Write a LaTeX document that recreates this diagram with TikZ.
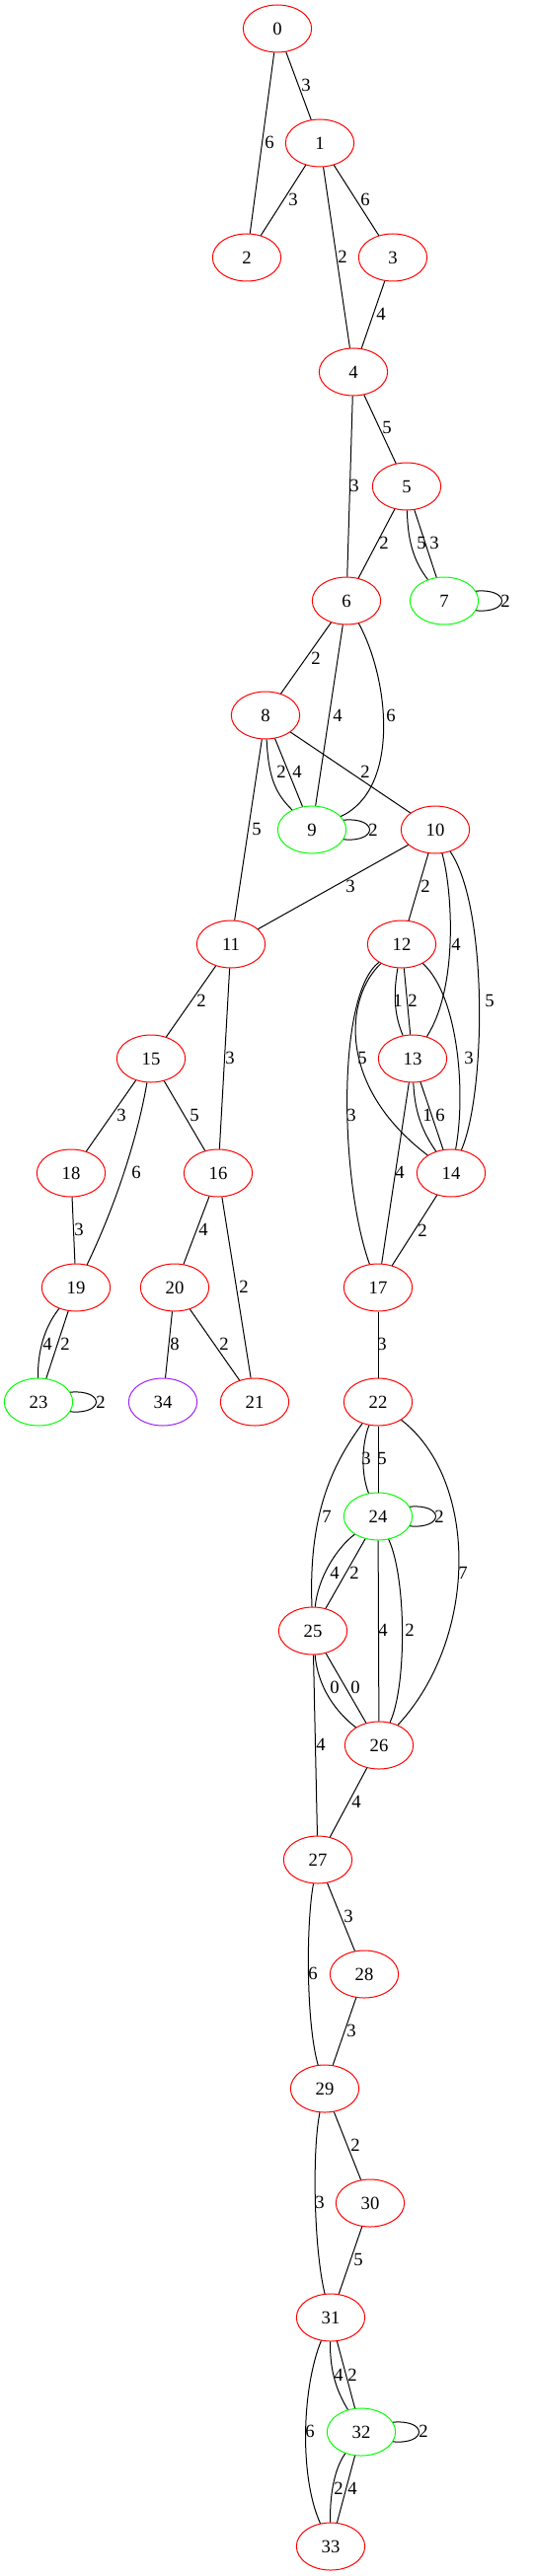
\documentclass[tikz,border=0pt]{standalone}
\usepackage{fontspec}
\setmainfont{Liberation Serif}
\usetikzlibrary{shapes.geometric}
\definecolor{gvred}{RGB}{255,0,0}
\definecolor{gvgreen}{RGB}{0,255,0}
\definecolor{gvpurple}{RGB}{160,32,240}
\tikzset{
  vtx/.style={ellipse, draw, line width=0.75pt, minimum width=52pt, minimum height=36pt, inner sep=0pt, font=\fontsize{14}{16}\selectfont},
  rednode/.style={vtx, draw=gvred},
  greennode/.style={vtx, draw=gvgreen},
  purplenode/.style={vtx, draw=gvpurple},
  conn/.style={line width=0.75pt, draw=black},
  lbl/.style={font=\fontsize{14}{16}\selectfont, inner sep=0pt},
}
\begin{document}
\begin{tikzpicture}[x=0.75pt, y=-0.75pt]
\useasboundingbox (0,0) rectangle (540,2611);
% nodes
\node[rednode] (n0) at (281,29) {0};
\node[rednode] (n1) at (324,145) {1};
\node[rednode] (n2) at (250,261) {2};
\node[rednode] (n3) at (398,261) {3};
\node[rednode] (n4) at (358,377) {4};
\node[rednode] (n5) at (412,493) {5};
\node[rednode] (n6) at (351,609) {6};
\node[greennode] (n7) at (450,609) {7};
\node[rednode] (n8) at (269,725) {8};
\node[greennode] (n9) at (316,841) {9};
\node[rednode] (n10) at (441,841) {10};
\node[rednode] (n11) at (234,957) {11};
\node[rednode] (n12) at (407,957) {12};
\node[rednode] (n13) at (418,1073) {13};
\node[rednode] (n14) at (457,1189) {14};
\node[rednode] (n15) at (153,1073) {15};
\node[rednode] (n16) at (221,1189) {16};
\node[rednode] (n17) at (383,1305) {17};
\node[rednode] (n18) at (72,1189) {18};
\node[rednode] (n19) at (77,1305) {19};
\node[rednode] (n20) at (177,1305) {20};
\node[rednode] (n21) at (258,1421) {21};
\node[rednode] (n22) at (383,1421) {22};
\node[greennode] (n23) at (39,1421) {23};
\node[greennode] (n24) at (383,1537) {24};
\node[rednode] (n25) at (317,1653) {25};
\node[rednode] (n26) at (384,1769) {26};
\node[rednode] (n27) at (322,1885) {27};
\node[rednode] (n28) at (369,2001) {28};
\node[rednode] (n29) at (329,2117) {29};
\node[rednode] (n30) at (375,2233) {30};
\node[rednode] (n31) at (335,2349) {31};
\node[greennode] (n32) at (366,2465) {32};
\node[rednode] (n33) at (335,2581) {33};
\node[purplenode] (n34) at (165,1421) {34};
% straight edges
\draw[conn] (n0) -- (n1);
\draw[conn] (n0) -- (n2);
\draw[conn] (n1) -- (n2);
\draw[conn] (n1) -- (n3);
\draw[conn] (n1) -- (n4);
\draw[conn] (n3) -- (n4);
\draw[conn] (n4) -- (n5);
\draw[conn] (n4) -- (n6);
\draw[conn] (n5) -- (n6);
\draw[conn] (n5) -- (n7);
\draw[conn] (n6) -- (n8);
\draw[conn] (n6) -- (n9);
\draw[conn] (n8) -- (n9);
\draw[conn] (n8) -- (n10);
\draw[conn] (n8) -- (n11);
\draw[conn] (n10) -- (n11);
\draw[conn] (n10) -- (n12);
\draw[conn] (n11) -- (n15);
\draw[conn] (n11) -- (n16);
\draw[conn] (n12) -- (n13);
\draw[conn] (n13) -- (n14);
\draw[conn] (n13) -- (n17);
\draw[conn] (n14) -- (n17);
\draw[conn] (n15) -- (n18);
\draw[conn] (n15) -- (n16);
\draw[conn] (n18) -- (n19);
\draw[conn] (n16) -- (n20);
\draw[conn] (n16) -- (n21);
\draw[conn] (n19) -- (n23);
\draw[conn] (n20) -- (n34);
\draw[conn] (n20) -- (n21);
\draw[conn] (n17) -- (n22);
\draw[conn] (n22) -- (n24);
\draw[conn] (n24) -- (n25);
\draw[conn] (n24) -- (n26);
\draw[conn] (n25) -- (n26);
\draw[conn] (n25) -- (n27);
\draw[conn] (n26) -- (n27);
\draw[conn] (n27) -- (n28);
\draw[conn] (n28) -- (n29);
\draw[conn] (n29) -- (n30);
\draw[conn] (n30) -- (n31);
\draw[conn] (n31) -- (n32);
\draw[conn] (n32) -- (n33);
% curved edges
\draw[conn] (n5) .. controls (413,550) and (420,570) .. (n7);
\draw[conn] (n6) .. controls (395,690) and (405,800) .. (n9);
\draw[conn] (n8) .. controls (272,790) and (280,805) .. (n9);
\draw[conn] (n10) .. controls (458,900) and (465,1000) .. (n13);
\draw[conn] (n10) .. controls (495,920) and (492,1110) .. (n14);
\draw[conn] (n12) .. controls (398,1010) and (400,1030) .. (n13);
\draw[conn] (n12) .. controls (465,1010) and (472,1110) .. (n14);
\draw[conn] (n12) .. controls (350,1010) and (340,1100) .. (n14);
\draw[conn] (n12) .. controls (340,1010) and (345,1200) .. (n17);
\draw[conn] (n13) .. controls (420,1130) and (430,1150) .. (n14);
\draw[conn] (n15) .. controls (140,1150) and (118,1220) .. (n19);
\draw[conn] (n19) .. controls (45,1345) and (38,1370) .. (n23);
\draw[conn] (n22) .. controls (366,1465) and (366,1495) .. (n24);
\draw[conn] (n22) .. controls (340,1480) and (312,1530) .. (n25);
\draw[conn] (n22) .. controls (485,1500) and (485,1660) .. (n26);
\draw[conn] (n24) .. controls (340,1570) and (322,1600) .. (n25);
\draw[conn] (n24) .. controls (412,1600) and (412,1710) .. (n26);
\draw[conn] (n25) .. controls (322,1710) and (340,1735) .. (n26);
\draw[conn] (n27) .. controls (310,1950) and (310,2050) .. (n29);
\draw[conn] (n29) .. controls (316,2180) and (318,2280) .. (n31);
\draw[conn] (n31) .. controls (334,2405) and (342,2425) .. (n32);
\draw[conn] (n31) .. controls (306,2420) and (303,2510) .. (n33);
\draw[conn] (n32) .. controls (340,2500) and (334,2525) .. (n33);
% loops
\draw[conn] (n7.17) .. controls +(35,-3) and +(35,3) .. (n7.-17);
\draw[conn] (n9.17) .. controls +(35,-3) and +(35,3) .. (n9.-17);
\draw[conn] (n23.17) .. controls +(35,-3) and +(35,3) .. (n23.-17);
\draw[conn] (n24.17) .. controls +(35,-3) and +(35,3) .. (n24.-17);
\draw[conn] (n32.17) .. controls +(35,-3) and +(35,3) .. (n32.-17);
% labels
\node[lbl] (l0a) at (310,86) {3};
\node[lbl] (l0b) at (273,144) {6};
\node[lbl] (l1a) at (297,202) {3};
\node[lbl] (l1b) at (370,202) {6};
\node[lbl] (l1c) at (347,260) {2};
\node[lbl] (l3a) at (386,318) {4};
\node[lbl] (l4a) at (392,433) {5};
\node[lbl] (l4b) at (359,492) {3};
\node[lbl] (l5a) at (389,550) {2};
\node[lbl] (l5b) at (427,550) {5};
\node[lbl] (l5c) at (440,550) {3};
\node[lbl] (l7a) at (512,609) {2};
\node[lbl] (l6a) at (320,667) {2};
\node[lbl] (l6b) at (342,725) {4};
\node[lbl] (l6c) at (396,725) {6};
\node[lbl] (l8a) at (285,782) {2};
\node[lbl] (l8b) at (301,782) {4};
\node[lbl] (l8c) at (370,782) {2};
\node[lbl] (l8d) at (260,840) {5};
\node[lbl] (l9a) at (378,841) {2};
\node[lbl] (l10a) at (355,898) {3};
\node[lbl] (l10b) at (431,898) {2};
\node[lbl] (l10c) at (462,957) {4};
\node[lbl] (l10d) at (496,1014) {5};
\node[lbl] (l11a) at (204,1014) {2};
\node[lbl] (l11b) at (233,1072) {3};
\node[lbl] (l12a) at (403,1014) {1};
\node[lbl] (l12b) at (418,1014) {2};
\node[lbl] (l12c) at (475,1072) {3};
\node[lbl] (l12d) at (367,1072) {5};
\node[lbl] (l12e) at (356,1130) {3};
\node[lbl] (l13a) at (433,1130) {1};
\node[lbl] (l13b) at (446,1130) {6};
\node[lbl] (l13c) at (405,1188) {4};
\node[lbl] (l14a) at (428,1247) {2};
\node[lbl] (l15a) at (123,1130) {3};
\node[lbl] (l15b) at (138,1188) {6};
\node[lbl] (l15c) at (197,1130) {5};
\node[lbl] (l18a) at (80,1246) {3};
\node[lbl] (l16a) at (206,1246) {4};
\node[lbl] (l16b) at (247,1304) {2};
\node[lbl] (l19a) at (48,1362) {4};
\node[lbl] (l19b) at (66,1362) {2};
\node[lbl] (l23a) at (102,1421) {2};
\node[lbl] (l20a) at (177,1362) {8};
\node[lbl] (l20b) at (227,1362) {2};
\node[lbl] (l17a) at (387,1362) {3};
\node[lbl] (l22a) at (371,1478) {3};
\node[lbl] (l22b) at (387,1478) {5};
\node[lbl] (l22c) at (331,1537) {7};
\node[lbl] (l22d) at (469,1594) {7};
\node[lbl] (l24a) at (445,1537) {2};
\node[lbl] (l24b) at (339,1594) {4};
\node[lbl] (l24c) at (359,1594) {2};
\node[lbl] (l24d) at (388,1652) {4};
\node[lbl] (l24e) at (415,1652) {2};
\node[lbl] (l25a) at (339,1710) {0};
\node[lbl] (l25b) at (360,1710) {0};
\node[lbl] (l25c) at (325,1768) {4};
\node[lbl] (l26a) at (361,1826) {4};
\node[lbl] (l27a) at (353,1942) {3};
\node[lbl] (l27b) at (317,2000) {6};
\node[lbl] (l28a) at (356,2058) {3};
\node[lbl] (l29a) at (360,2174) {2};
\node[lbl] (l29b) at (324,2232) {3};
\node[lbl] (l30a) at (363,2290) {5};
\node[lbl] (l31a) at (343,2407) {4};
\node[lbl] (l31b) at (357,2407) {2};
\node[lbl] (l31c) at (314,2464) {6};
\node[lbl] (l32a) at (429,2464) {2};
\node[lbl] (l32b) at (343,2522) {2};
\node[lbl] (l32c) at (357,2522) {4};
\end{tikzpicture}
\end{document}
